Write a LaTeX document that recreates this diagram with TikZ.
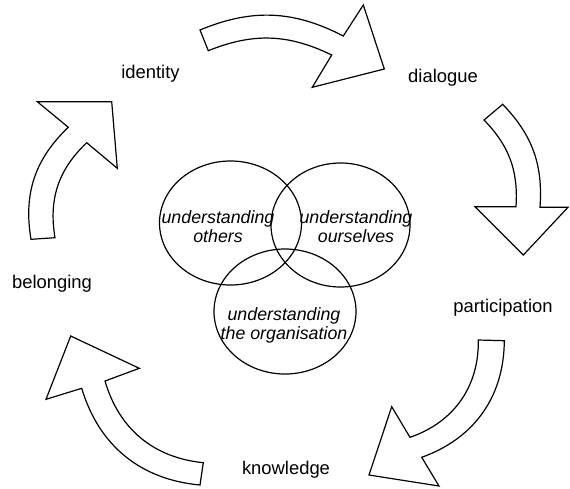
\documentclass[tikz,border=0pt]{standalone}
\usepackage{fontspec}
\setmainfont{Liberation Sans}
\usepackage{tikz}
\usetikzlibrary{shapes.geometric}

\begin{document}
\begin{tikzpicture}[
        x=1pt, y=-1pt,
        every node/.style={font=\fontsize{18.4}{19}\selectfont, align=center, inner sep=0pt},
        venn/.style={draw, ellipse, line width=1.2pt},
        venntext/.style={font=\fontsize{17.8}{19}\selectfont\itshape},
        cyclearrow/.style={draw, line width=1.2pt, line join=miter, fill=white},
    ]
    \useasboundingbox (0,0) rectangle (570,488);
    % the three overlapping circles
    \node[venn, minimum width=142pt, minimum height=124pt] (others) at (230.5,223) {};
    \node[venn, minimum width=139pt, minimum height=124pt] (ourselves) at (340.5,225) {};
    \node[venn, minimum width=142pt, minimum height=125pt] (organisation) at (285,311.5) {};
    \node[venntext] (t-others) at (218,226.5) {understanding\\others};
    \node[venntext] (t-ourselves) at (356,227) {understanding\\ourselves};
    \node[venntext] (t-organisation) at (284,325) {understanding\\the organisation};
    % labels round the cycle
    \node (identity) at (150.5,74) {identity};
    \node (dialogue) at (443,78) {dialogue};
    \node (participation) at (503,308) {participation};
    \node (knowledge) at (286,470) {knowledge};
    \node (belonging) at (52,284) {belonging};
    % curved block arrows
    \draw[cyclearrow] (200,30) to[bend left=25] (343.3,36) -- (363.3,5) -- (384.3,69)
        -- (312.3,87.3) -- (331.7,55) to[bend right=24] (208.3,50.7) -- cycle;
    \draw[cyclearrow] (502.7,104.3) to[bend left=24] (540,207.3) -- (568,207.3) -- (523.3,255)
        -- (475,206.7) -- (516,206.7) to[bend right=24] (484,120) -- cycle;
    \draw[cyclearrow] (504.3,340.7) to[bend left=35] (421.7,457.3) -- (439,486) -- (369,475)
        -- (391.7,406.7) -- (410,437.3) to[bend right=36] (478.3,340) -- cycle;
    \draw[cyclearrow] (200,485) to[bend left=34] (81.7,388.3) -- (46,399.3) -- (70.7,336)
        -- (139.3,368.3) -- (105,381) to[bend right=34] (203.3,462.7) -- cycle;
    \draw[cyclearrow] (31,239.3) to[bend left=28] (68.3,127.3) -- (37.3,101.7) -- (111.7,101.7)
        -- (117.3,168.3) -- (86.7,142.7) to[bend right=28] (55,237.7) -- cycle;
\end{tikzpicture}
\end{document}
